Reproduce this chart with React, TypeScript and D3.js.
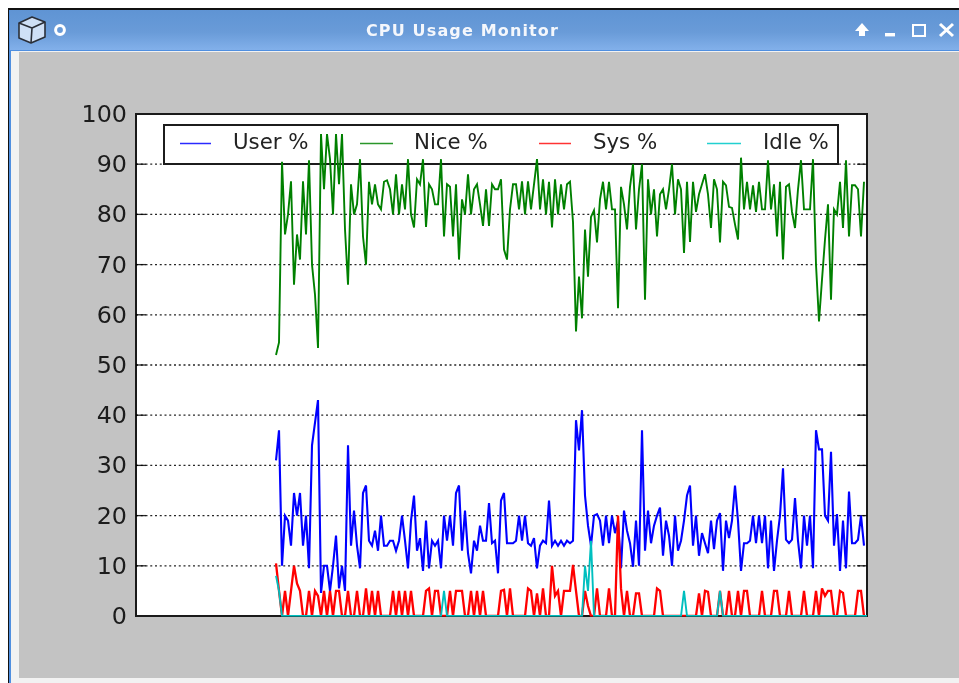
import React from "react";
import * as d3 from "d3";

const TITLE = "CPU Usage Monitor";
const yTicks = [0, 10, 20, 30, 40, 50, 60, 70, 80, 90, 100];
const sampleDomain = [-46.67, 197];

const niceA = [52,54.5,90.5,76,80,86.6,66,76,71,86.6,76,90.8,70,64,53.4,96,85,96,91,80,96,86,96,77,66,86,80,82,91,75.6,70,86.5,82,86,82,81,86.5,86.8,85,80,88,80,86,81,91,80,77.4,87];
const niceB = [86,91,77.5,86,85,82,82,91,75.6,86,85.5,75.6,86,71,83,80,88,80,85,86,82,77.7,85,77.7,86,85,85,87,73,71,81,86,86,81,86.6,80,86.6,81,86,91,81,87,80,86.5,77.4,87,80,86,81,86];
const niceC = [86.5,78.5,56.7,67.6,59.3,77,67.6,79.5,80.8,74.4,83,86.5,81,86.5,81,81,61.3,85.5,82,77,85.5,90,77,85,90,63,87,80,85,75.6,84,85,81,85,90,80,87,85,72.3,86.5,74.5,86.5,80.5,84,86,88,84,77.3,87,85];
const niceD = [74.4,86.5,85.8,81.5,81.3,78,75,91.3,81,86.5,81,85.8,80.5,86.5,81,81,90.8,81,86,75.6,86.5,71,85.5,86,80.5,77.3,85,90.8,81,81,81,91,70,58.7,67,75,82,63,81,80,86.5,77.3,90.8,75.6,85.8,85.8,85,75.6,86.5];

const userA = [31,37,10,20,19,14,24.5,20,24.5,14,20,9.5,34,38.5,43,4.6,10,10,5,10,16,5.5,10,5,34,14,21,14,9.5,24.5,26,15,14,17,13,20,14,14,15,15,13,15,20,15,9.5,19,24,13];
const userB = [15.5,9,19,9.5,15,14,15,9.5,20,15,20,14,24.5,26,13,21,12.5,8.5,15,13,18,15,15,22.5,14.5,15,8.5,23,24.5,14.5,14.5,14.5,15,20,15,20,14.5,14,15.5,9.5,14,15,14.5,23,14,15,14,15,14,15];
const userC = [14.5,15,39,33,41,24,18,14,20,20.3,19,14,20,14.5,20,16.5,19,9.5,21,17,14.5,9.8,19,10,37,13,21,14.5,18,20,21.6,12,19,16,10,20,13,15,19,24,26,14,20,12,16.5,14.5,12.5,19,13.3,19];
const userD = [20.5,9,19,15.5,19,26,19,9,14.5,14.5,15,20,14.5,20,14.5,20,9.5,19,9,15,20,29.4,15.2,14.5,15.2,23.5,15,9.5,20,14,20,9.5,37,33.2,33.2,20,19,32.7,14,20.3,9,19,9.5,24.8,14.5,14.5,15.2,20,14];

const sysA = [10.5,5,0,5,0,5,10,6.5,5,0,0,5,0,5,4,0,5,0,5,0,5,5,0,0,5,0,0,5,0,0,5.5,0,5,0,5,0,0,0,0,5,0,5,0,5,0,5,0,0];
const sysB = [0,0,5,5.5,0,5,5,0,0,0,5,0,5,5,5,0,0,5,0,5,0,5,0,0,0,0,0,5,5.2,0,5.5,0,0,0,0,0,5.5,5,0,4.5,0,5.5,0,0,10,4,5,0,5,5];
const sysC = [5,10.2,5,0,0,5,2,0,0,5.5,0,0,0,5.5,0,0,20,5.5,0,5,0,0,4.5,4.5,0,0,0,0,0,5.5,5,0,0,0,0,0,0,0,0,0,0,0,0,4.5,0,5,4.8,0,0,0];
const sysD = [5,0,0,5,0,0,5,0,5,5,0,0,0,0,5,0,0,0,5,5,0,0,0,5,0,0,0,0,5,0,0,0,5,0,5.5,4,5,5,0,0,5,4.6,0,0,0,0,5,5,0];

const idleA = [8,5,0,...new Array(45).fill(0)];
const idleB = [0,0,0,0,0,0,0,0,5,...new Array(41).fill(0)];
const idleC = [0,0,0,0,0,10,5,15,0,...new Array(29).fill(0),5,...new Array(11).fill(0),5];
const idleD = [0,...new Array(48).fill(0)];

const user = [...userA, ...userB, ...userC, ...userD];
const nice = [...niceA, ...niceB, ...niceC, ...niceD];
const sys = [...sysA, ...sysB, ...sysC, ...sysD];
const idle = [...idleA, ...idleB, ...idleC, ...idleD];

const seriesNames = ["User %", "Nice %", "Sys %", "Idle %"];
const seriesColors = ["#0000ff", "#008000", "#ff0000", "#00bfbf"];
const seriesWidths = [2.1, 1.9, 2.3, 1.9];
const legendColors = ["#2a2aff", "#2a962a", "#ff3333", "#22d0d0"];
const seriesValues = [user, nice, sys, idle];

const FONT = "'DejaVu Sans', sans-serif";

export default function App() {
  const x = d3.scaleLinear().domain(sampleDomain).range([136, 867]);
  const y = d3.scaleLinear().domain([0, 100]).range([616, 114]);
  const line = d3
    .line<number>()
    .x((_, i) => x(i))
    .y((d) => y(d));
  const legendLine = [180, 360, 539, 707];
  const legendLineEnd = [211, 393, 571, 741];
  const legendText = [233, 414, 593, 763];

  return (
    <svg
      width={959}
      height={683}
      style={{ position: "absolute", left: 0, top: 0, display: "block" }}
    >
      <defs>
        <linearGradient id="tb" x1="0" y1="0" x2="0" y2="1">
          <stop offset="0" stopColor="#5f94d4" />
          <stop offset="0.55" stopColor="#699bd8" />
          <stop offset="1" stopColor="#82b0ea" />
        </linearGradient>
        <clipPath id="axes">
          <rect x={136} y={114} width={731} height={502.5} />
        </clipPath>
        <filter id="soft" x="-5%" y="-5%" width="110%" height="110%">
          <feGaussianBlur stdDeviation="0.45" />
        </filter>
        <filter id="softLine" filterUnits="userSpaceOnUse" x={130} y={108} width={745} height={515}>
          <feGaussianBlur stdDeviation="0.4" />
        </filter>
      </defs>

      <rect width={959} height={683} fill="#ffffff" />
      <rect x={8} y={8} width={951} height={675} fill="#111111" />
      <rect x={9} y={10} width={950} height={673} fill="#4f8fe0" />
      <rect x={11} y={51} width={948} height={632} fill="#f2f2f2" />
      <rect x={10} y={10} width={949} height={40} fill="url(#tb)" />
      <rect x={19} y={52} width={940} height={626} fill="#c3c3c3" />

      {/* title bar */}
      <g filter="url(#soft)">
        <g fill="#cfe0f6" stroke="#2a2f38" strokeWidth={1.6} strokeLinejoin="round">
          <path d="M19 23 L32 17 L45 22 L45 37 L31 43 L19 38 Z" />
          <path d="M19 23 L32 28 L45 22 M32 28 L31 43" fill="none" />
        </g>
        <circle cx={60} cy={30} r={4.4} fill="none" stroke="#ffffff" strokeWidth={3} />
        <text x={462.5} y={36} textAnchor="middle" fontFamily={FONT} fontWeight={700} fontSize={16} letterSpacing={1.15} fill="#f4f7fc">
          {TITLE}
        </text>
        <path d="M862 23 L869 31 L865 31 L865 36 L859 36 L859 31 L855 31 Z" fill="#ffffff" />
        <rect x={885} y={33} width={10} height={3.4} fill="#ffffff" />
        <rect x={913} y={25} width={12} height={11} fill="none" stroke="#ffffff" strokeWidth={2} />
        <path d="M940 24 L953 36 M953 24 L940 36" stroke="#ffffff" strokeWidth={3} />
      </g>

      {/* axes */}
      <rect x={136} y={114} width={731} height={502} fill="#ffffff" stroke="#1a1a1a" strokeWidth={2} />
      {yTicks.slice(1, -1).map((t) => (
        <g key={t} stroke="#000000" strokeWidth={1.3}>
          <line x1={136} x2={867} y1={y(t)} y2={y(t)} strokeDasharray="2 2.75" strokeOpacity={0.85} />
          <line x1={136} x2={146} y1={y(t)} y2={y(t)} strokeOpacity={0.85} />
          <line x1={857} x2={867} y1={y(t)} y2={y(t)} strokeOpacity={0.85} />
        </g>
      ))}

      {/* legend sits under the lines */}
      <rect x={164} y={125} width={674} height={39} fill="#ffffff" stroke="#1c1c1c" strokeWidth={2} />
      {seriesNames.map((name, i) => (
        <g key={name}>
          <line x1={legendLine[i]} x2={legendLineEnd[i]} y1={143.5} y2={143.5} stroke={legendColors[i]} strokeWidth={1.5} />
          <text x={legendText[i]} y={149} fontFamily={FONT} fontSize={21.3} fill="#222222" filter="url(#soft)">
            {name}
          </text>
        </g>
      ))}

      <g clipPath="url(#axes)">
        <g filter="url(#softLine)">
          {seriesValues.map((vals, i) => (
            <path
              key={seriesNames[i]}
              d={line(vals) ?? ""}
              fill="none"
              stroke={seriesColors[i]}
              strokeWidth={seriesWidths[i]}
              strokeLinejoin="miter"
            />
          ))}
        </g>
      </g>

      {yTicks.map((t) => (
        <text key={t} x={127} y={y(t) + 8} textAnchor="end" fontFamily={FONT} fontSize={23.8} fill="#1a1a1a" filter="url(#soft)">
          {t}
        </text>
      ))}
    </svg>
  );
}
